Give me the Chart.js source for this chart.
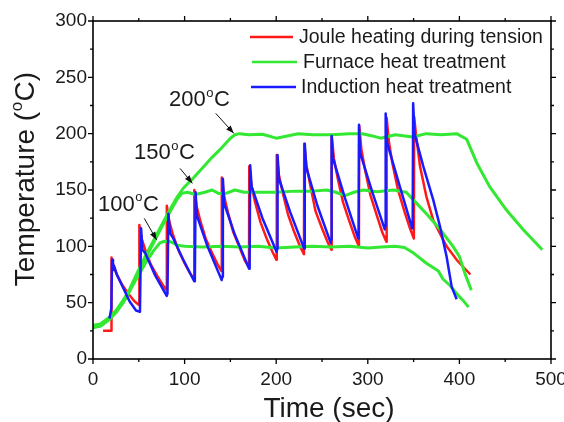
<!DOCTYPE html>
<html><head><meta charset="utf-8">
<script src="https://cdn.jsdelivr.net/npm/chart.js@4"></script>
<style>html,body{margin:0;padding:0;background:#fff}</style></head>
<body><canvas id="c" width="564" height="422"></canvas>
<script>
// ---- data (time in s, temperature in °C) ----
const xTicks = [0, 100, 200, 300, 400, 500];
const yTicks = [0, 50, 100, 150, 200, 250, 300];
const seriesNames = ['Joule heating during tension', 'Furnace heat treatment', 'Induction heat treatment'];
const annotLabels = ['100', '150', '200'];

const joule = [[11,25],[19.8,25],[20.2,90],[22.5,82],[26.5,74],[32.5,65],[39.5,57],[45.5,51],[50.3,48],
[50.6,119],[53,107],[57,97],[63,84],[70,74],[76,66],[80.3,61],
[80.6,136],[83,123],[87,111],[93,97],[100,85],[106,76],[110.3,71],
[110.6,150],[113,136],[117,123],[123,107],[130,94],[136,84],[140.3,78],
[140.6,161],[143,145],[147,131],[153,113],[160,99],[166,87],[170.3,81],
[170.6,171],[173,154],[177,139],[183,121],[190,106],[196,95],[200.3,88],
[200.6,181],[203,163],[207,148],[213,128],[220,112],[226,100],[230.3,93],
[230.6,191],[233,172],[237,155],[243,131],[250,116],[256,104],[260.3,97],
[260.6,198],[263,178],[267,161],[273,139],[280,122],[286,108],[290.3,100],
[290.6,207],[293,186],[297,168],[303,145],[310,127],[316,112],[320.3,104],
[320.6,214],[323,193],[327,173],[333,150],[340,131],[346,116],[350.3,107],
[350.6,215],[352.5,200],[357,171],[364,144],[371.5,123],[379,111],[386,100],[397,88],[405,81],[412,75]];

const induction = [[18,36],[20,45],[20.8,88],[21.8,79],[22.8,83],[26,75],[33,63],[40,51],[47,43],[50.5,42],
[51.3,44],[52.5,116],[54,97],[57,94],[68,74],[80.5,56],
[81.3,58],[82.3,129],[84,112],[87,108],[98,89],[110.5,69],
[111.2,72],[112,148],[113.5,127],[125,100],[140.5,70],
[141,73],[141.8,160],[143.2,138],[155,110],[170.5,80],
[171,83],[171.6,172],[173.2,153],[185,125],[200.5,95],
[201,98],[201.5,181],[203,160],[215,131],[230.5,98],
[231,101],[231.4,191],[232.8,170],[245,136],[259.5,103],
[260,106],[260.5,198],[262,178],[275,143],[289.5,107],
[290,110],[290.4,208],[291.6,183],[305,148],[318.5,115],
[319,118],[319.5,218],[321,192],[335,153],[348.5,116],
[349,119],[349.5,227],[351,200],[360.6,171],[371.5,141],[379,117],[386,91],[391.6,64],[397,53]];

const furnace100 = [[0,28],[10,30.5],[20,37],[28,46],[38,58],[48,72],[58,86],[66,96],[73,103],[78,104.5],[85,104],[92,101],[100,100],[120,99.5],[140,100],[160,99.5],[180,100],[200,98.5],[220,99.5],[240,100],[260,99.5],[280,100],[300,98.5],[315,99.5],[330,100],[340,99],[350,94],[364,85],[377,78],[382,71],[390,65],[397,58],[404,52],[410,46]];

const furnace150 = [[0,28],[8,29],[18,35],[26,42],[33,50],[40,60],[48,74],[57,89],[66,103],[75,117],[85,132],[92,142],[97,147],[103,148],[112,146],[122,148],[130,150],[137,147],[145,147],[155,150],[165,148],[180,148],[200,148],[220,149],[240,149],[255,150],[265,148],[275,145],[285,148],[295,150],[310,148.5],[328,150],[342,148],[350,141],[364,129],[379,115],[393,100],[400,91],[406,76],[413,61]];

const furnace200 = [[0,30],[8,31],[18,37],[26,44],[33,52],[40,62],[48,76],[57,91],[66,105],[75,119],[85,134],[92,144],[99,152],[110,161],[120,170],[130,179],[140,187],[150,196],[155,199],[160,200],[170,199],[185,199.5],[200,196],[212,198],[224,200],[240,199],[260,199],[280,200],[294,200],[305,198],[314,196],[330,199],[349,197],[364,200],[380,199],[397,200],[408,195],[419,174],[433,153],[451.6,132],[470,114.5],[490.5,97]];

// annotation anchors in data units
const annotText = [[5.5,131.8],[44.8,177.5],[83,224.5]];
const annotArrow = [[[56,124.8],[69.5,105.6]],[[95,169.2],[108.5,155.9]],[[134,218],[153.7,200.3]]];

const RED = '#ff1a1a', GREEN = '#33e833', BLUE = '#1a1aff';
const toXY = a => a.map(p => ({x: p[0], y: p[1]}));
const FONT = '"Liberation Sans", Arial, sans-serif';

function supText(ctx, x, y, base, sup, tail, size, supSize) {
  ctx.font = size + 'px ' + FONT;
  ctx.fillText(base, x, y);
  let w = ctx.measureText(base).width;
  ctx.font = supSize + 'px ' + FONT;
  ctx.fillText(sup, x + w + 0.5, y - size * 0.42);
  w += ctx.measureText(sup).width + 1;
  ctx.font = size + 'px ' + FONT;
  ctx.fillText(tail, x + w, y);
  return w + ctx.measureText(tail).width;
}
function supWidth(ctx, base, sup, tail, size, supSize) {
  ctx.font = size + 'px ' + FONT;
  let w = ctx.measureText(base).width + ctx.measureText(tail).width + 1;
  ctx.font = supSize + 'px ' + FONT;
  return w + ctx.measureText(sup).width;
}

const decor = {
  id: 'decor',
  afterDraw(chart) {
    const {ctx, chartArea: a, scales: {x, y}} = chart;
    ctx.save();
    ctx.strokeStyle = '#000';
    ctx.lineWidth = 1.6;
    ctx.strokeRect(a.left, a.top, a.right - a.left, a.bottom - a.top);
    ctx.lineWidth = 1.3;
    ctx.beginPath();
    for (let v = 0; v <= 500; v += 50) {
      const px = x.getPixelForValue(v), L = v % 100 === 0 ? 5 : 3;
      ctx.moveTo(px, a.bottom); ctx.lineTo(px, a.bottom + L);
      ctx.moveTo(px, a.top); ctx.lineTo(px, a.top - L);
    }
    for (let v = 0; v <= 300; v += 25) {
      const py = y.getPixelForValue(v), L = v % 50 === 0 ? 5 : 3;
      ctx.moveTo(a.left, py); ctx.lineTo(a.left - L, py);
      ctx.moveTo(a.right, py); ctx.lineTo(a.right + L, py);
    }
    ctx.stroke();

    // legend
    const rows = [[RED, 250, 293, 37, 299], [GREEN, 252, 297, 62, 303], [BLUE, 251, 296, 87, 301]];
    ctx.font = '19.5px ' + FONT;
    ctx.fillStyle = '#1a1a1a';
    ctx.textBaseline = 'middle';
    rows.forEach((r, i) => {
      ctx.strokeStyle = r[0]; ctx.lineWidth = 2.5;
      ctx.beginPath(); ctx.moveTo(r[1], r[3]); ctx.lineTo(r[2], r[3]); ctx.stroke();
      ctx.fillText(seriesNames[i], r[4], r[3] + 1);
    });

    // annotations
    ctx.textBaseline = 'alphabetic';
    annotLabels.forEach((lab, i) => {
      const tx = x.getPixelForValue(annotText[i][0]), ty = y.getPixelForValue(annotText[i][1]);
      supText(ctx, tx, ty, lab, 'o', 'C', 22, 13);
      const [p0, p1] = annotArrow[i];
      const x0 = x.getPixelForValue(p0[0]), y0 = y.getPixelForValue(p0[1]);
      const x1 = x.getPixelForValue(p1[0]), y1 = y.getPixelForValue(p1[1]);
      ctx.strokeStyle = '#111'; ctx.lineWidth = 1;
      ctx.beginPath(); ctx.moveTo(x0, y0); ctx.lineTo(x1, y1); ctx.stroke();
      const ang = Math.atan2(y1 - y0, x1 - x0), hl = 8, hw = 3;
      ctx.fillStyle = '#111';
      ctx.beginPath();
      ctx.moveTo(x1, y1);
      ctx.lineTo(x1 - hl * Math.cos(ang) + hw * Math.sin(ang), y1 - hl * Math.sin(ang) - hw * Math.cos(ang));
      ctx.lineTo(x1 - hl * Math.cos(ang) - hw * Math.sin(ang), y1 - hl * Math.sin(ang) + hw * Math.cos(ang));
      ctx.closePath(); ctx.fill();
      ctx.fillStyle = '#1a1a1a';
    });

    // axis titles
    ctx.fillStyle = '#1a1a1a';
    ctx.font = '28px ' + FONT;
    ctx.textAlign = 'center';
    ctx.fillText('Time (sec)', (a.left + a.right) / 2 + 7, 417);
    ctx.textAlign = 'left';
    ctx.save();
    ctx.translate(34, (a.top + a.bottom) / 2 - 11);
    ctx.rotate(-Math.PI / 2);
    const tw = supWidth(ctx, 'Temperature (', 'o', 'C)', 28, 17);
    supText(ctx, -tw / 2, 0, 'Temperature (', 'o', 'C)', 28, 17);
    ctx.restore();
    ctx.restore();
  }
};

new Chart(document.getElementById('c'), {
  type: 'scatter',
  data: {
    datasets: [
      {label: seriesNames[0], data: toXY(joule), borderColor: RED, borderWidth: 2.5, order: 3},
      {label: seriesNames[1], data: toXY(furnace100), borderColor: GREEN, borderWidth: 3, order: 2},
      {label: seriesNames[1], data: toXY(furnace150), borderColor: GREEN, borderWidth: 3, order: 2},
      {label: seriesNames[1], data: toXY(furnace200), borderColor: GREEN, borderWidth: 3, order: 2},
      {label: seriesNames[2], data: toXY(induction), borderColor: BLUE, borderWidth: 2.5, order: 1}
    ].map(d => Object.assign(d, {showLine: true, pointRadius: 0, tension: 0, fill: false, borderJoinStyle: 'round'}))
  },
  options: {
    responsive: false, animation: false, devicePixelRatio: 1,
    layout: {padding: {top: 21, right: 13, left: 0, bottom: 0}},
    plugins: {legend: {display: false}, tooltip: {enabled: false}},
    scales: {
      x: {
        type: 'linear', min: 0, max: 500,
        afterBuildTicks: s => { s.ticks = xTicks.map(v => ({value: v})); },
        grid: {display: false, drawTicks: false}, border: {display: false},
        ticks: {padding: 9, color: '#1a1a1a', font: {family: FONT, size: 19}, maxRotation: 0},
        afterFit: s => { s.height = 63; s.paddingLeft = 0; s.paddingRight = 0; }
      },
      y: {
        type: 'linear', min: 0, max: 300,
        afterBuildTicks: s => { s.ticks = yTicks.map(v => ({value: v})); },
        grid: {display: false, drawTicks: false}, border: {display: false},
        ticks: {padding: 6, color: '#1a1a1a', font: {family: FONT, size: 19}},
        afterFit: s => { s.width = 93; s.paddingTop = 0; s.paddingBottom = 0; }
      }
    }
  },
  plugins: [decor]
});
</script></body></html>
